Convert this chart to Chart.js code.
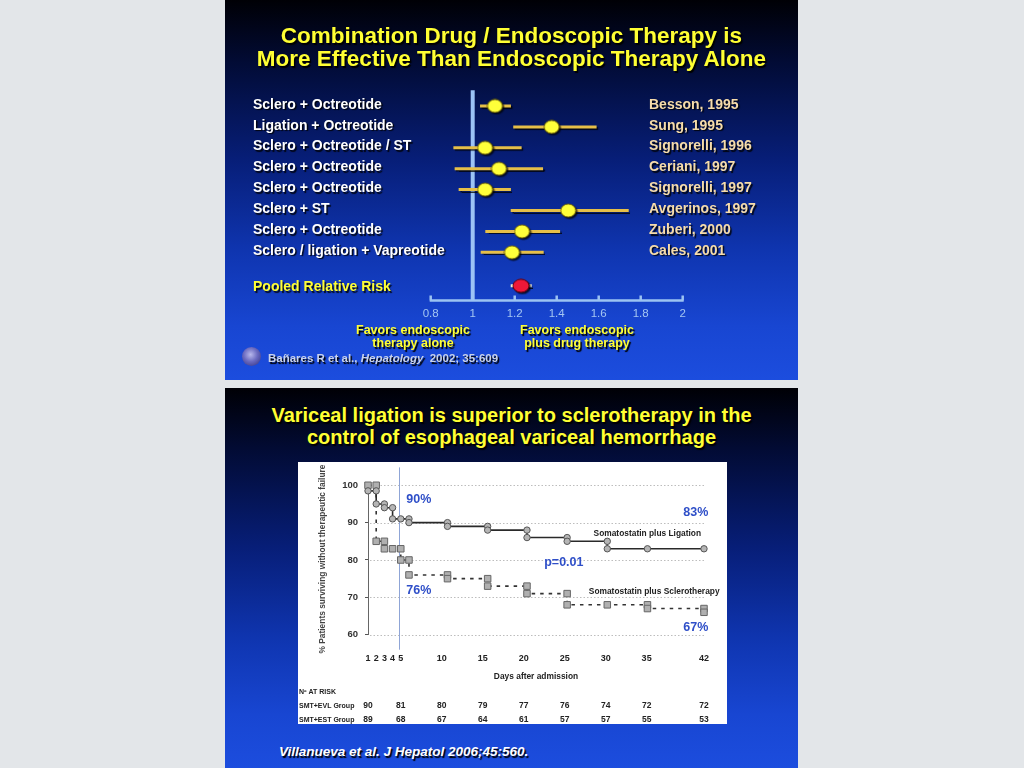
<!DOCTYPE html>
<html>
<head>
<meta charset="utf-8">
<title>Endoscopic therapy slides</title>
<script src="https://cdn.jsdelivr.net/npm/chart.js@4.4.1/dist/chart.umd.min.js"></script>
<style>
  html, body { margin: 0; padding: 0; }
  body {
    width: 1024px; height: 768px; overflow: hidden; position: relative;
    background: #e3e6e9;
    font-family: "Liberation Sans", Arial, Helvetica, sans-serif;
  }
  .slide {
    position: absolute; left: 225px; width: 573px; height: 380px; overflow: hidden;
    background: linear-gradient(to bottom, #000005 0%, #020b34 16%, #071e78 42%, #0f35b0 66%, #1846d2 86%, #1c4dde 100%);
  }
  #slideTop { top: 0; }
  #slideBottom { top: 388px; }
  .txt { position: absolute; font-weight: bold; white-space: nowrap; text-shadow: 1.5px 1.5px 1px #000; }
  .yellow { color: #ffff33; text-align: center; }
  #forestCanvas { position: absolute; left: 0; top: 0; }
  #kmCanvas { position: absolute; left: 73px; top: 74px; background: #fff; }
  #logo {
    position: absolute; left: 17px; top: 347px; width: 19px; height: 19px; border-radius: 50%;
    background: radial-gradient(circle at 45% 40%, #b8b8ec 0%, #6a6ac0 45%, #2a2a78 100%);
  }
</style>
</head>
<body>

<div class="slide" id="slideTop">
  <canvas id="forestCanvas" width="573" height="380"></canvas>
  <div class="txt yellow" style="left:0; top:24px; width:573px; font-size:22.5px; line-height:23px;">
    Combination Drug / Endoscopic Therapy is<br>More Effective Than Endoscopic Therapy Alone
  </div>
  <div class="txt yellow" style="left:88px; top:323.5px; width:200px; font-size:12.5px; line-height:13px;">
    Favors endoscopic<br>therapy alone
  </div>
  <div class="txt yellow" style="left:252px; top:323.5px; width:200px; font-size:12.5px; line-height:13px;">
    Favors endoscopic<br>plus drug therapy
  </div>
  <div id="logo"></div>
  <div class="txt" style="left:43px; top:351px; font-size:11.5px; line-height:14px; color:#c9d3ea;">
    Bañares R et al., <i>Hepatology</i>&nbsp; 2002; 35:609
  </div>
</div>

<div class="slide" id="slideBottom">
  <div class="txt yellow" style="left:0; top:17px; width:573px; font-size:20px; line-height:21.5px;">
    Variceal ligation is superior to sclerotherapy in the<br>control of esophageal variceal hemorrhage
  </div>
  <canvas id="kmCanvas" width="429" height="262"></canvas>
  <div class="txt" style="left:54px; top:356px; font-size:13.5px; line-height:16px; color:#fff; font-style:italic;">
    Villanueva et al. J Hepatol 2006;45:560.
  </div>
</div>

<script>
// Forest plot: relative risk per study
var studyLabels = ['Sclero + Octreotide', 'Ligation + Octreotide', 'Sclero + Octreotide / ST', 'Sclero + Octreotide',
    'Sclero + Octreotide', 'Sclero + ST', 'Sclero + Octreotide', 'Sclero / ligation + Vapreotide'];
var studyRefs = ['Besson, 1995', 'Sung, 1995', 'Signorelli, 1996', 'Ceriani, 1997',
    'Signorelli, 1997', 'Avgerinos, 1997', 'Zuberi, 2000', 'Cales, 2001'];
var rrEstimate = [1.106, 1.376, 1.059, 1.125, 1.059, 1.455, 1.235, 1.187];
var rrLower = [1.035, 1.193, 0.908, 0.914, 0.933, 1.181, 1.06, 1.038];
var rrUpper = [1.182, 1.59, 1.233, 1.335, 1.182, 1.743, 1.416, 1.338];
var pooledRR = [1.181, 1.23, 1.281]; // lower, estimate, upper
var rrTicks = [0.8, 1, 1.2, 1.4, 1.6, 1.8, 2];

// Survival curves (% without therapeutic failure by day)
var kmTickDays = [1, 2, 3, 4, 5, 10, 15, 20, 25, 30, 35, 42];
var kmPctTicks = [60, 70, 80, 90, 100];
var ligationDays = [1, 2, 2, 3, 3, 4, 4, 5, 6, 6, 10.7, 10.7, 15.6, 15.6, 20.4, 20.4, 25.3, 25.3, 30.2, 30.2, 35.1, 42];
var ligationPct = [98.5, 98.5, 95, 95, 94, 94, 91, 91, 91, 90, 90, 89, 89, 88, 88, 86, 86, 85, 85, 83, 83, 83];
var scleroDays = [1, 2, 2, 3, 3, 4, 5, 5, 6, 6, 10.7, 10.7, 15.6, 15.6, 20.4, 20.4, 25.3, 25.3, 30.2, 35.1, 35.1, 42, 42];
var scleroPct = [100, 100, 85, 85, 83, 83, 83, 80, 80, 76, 76, 75, 75, 73, 73, 71, 71, 68, 68, 68, 67, 67, 66];
var riskDays = [1, 5, 10, 15, 20, 25, 30, 35, 42];
var riskEVL = [90, 81, 80, 79, 77, 76, 74, 72, 72];
var riskEST = [89, 68, 67, 64, 61, 57, 57, 55, 53];

var FONT = '"Liberation Sans", Arial, Helvetica, sans-serif';
Chart.defaults.font.family = FONT;
var POOLED_ROW = 9.6;

// ellipse marker drawn once, used as pointStyle
function makeEllipse(w, h, fill, stroke) {
    var c = document.createElement('canvas');
    c.width = w + 2;
    c.height = h + 2;
    var g = c.getContext('2d');
    g.beginPath();
    g.ellipse(c.width / 2, c.height / 2, w / 2, h / 2, 0, 0, Math.PI * 2);
    g.fillStyle = fill;
    g.fill();
    g.lineWidth = 1;
    g.strokeStyle = stroke;
    g.stroke();
    return c;
}

function toPoints(xs, ys) {
    return xs.map(function (x, i) { return {x: x, y: ys[i]}; });
}

// ---------- forest plot ----------
var forestDecor = {
    id: 'forestDecor',
    beforeDatasetsDraw: function (chart) {
        var ctx = chart.ctx, xs = chart.scales.x, a = chart.chartArea;
        ctx.save();
        ctx.strokeStyle = '#9cc3f2';
        ctx.lineWidth = 2.5;
        var y0 = a.bottom;
        ctx.beginPath();
        ctx.moveTo(xs.getPixelForValue(rrTicks[0]) - 1, y0);
        ctx.lineTo(xs.getPixelForValue(rrTicks[rrTicks.length - 1]) + 1, y0);
        rrTicks.forEach(function (t) {
            var x = xs.getPixelForValue(t);
            ctx.moveTo(x, y0);
            ctx.lineTo(x, y0 - 5);
        });
        ctx.stroke();
        // no-effect line at RR = 1
        ctx.lineWidth = 4;
        ctx.strokeStyle = '#9cc3f5';
        ctx.beginPath();
        ctx.moveTo(xs.getPixelForValue(1), a.top);
        ctx.lineTo(xs.getPixelForValue(1), y0);
        ctx.stroke();
        ctx.restore();

        ctx.save();
        ctx.shadowColor = 'rgba(0,0,0,0.75)';
        ctx.shadowOffsetX = 1.5;
        ctx.shadowOffsetY = 1.5;
        ctx.shadowBlur = 1;
    },
    afterDatasetsDraw: function (chart) {
        var ctx = chart.ctx, ys = chart.scales.y;
        ctx.restore();
        ctx.save();
        ctx.shadowColor = 'rgba(0,0,0,0.85)';
        ctx.shadowOffsetX = 1.5;
        ctx.shadowOffsetY = 1.5;
        ctx.shadowBlur = 1;
        ctx.font = 'bold 14px ' + FONT;
        ctx.textBaseline = 'middle';
        ctx.textAlign = 'left';
        studyLabels.forEach(function (s, i) {
            var y = ys.getPixelForValue(i + 1) - 1.2;
            ctx.fillStyle = '#ffffff';
            ctx.fillText(s, 28, y);
            ctx.fillStyle = '#f6dcaa';
            ctx.fillText(studyRefs[i], 424, y);
        });
        ctx.fillStyle = '#ffff33';
        ctx.fillText('Pooled Relative Risk', 28, ys.getPixelForValue(POOLED_ROW) + 1.5);
        ctx.restore();
    }
};

var forestSets = [{
    data: rrEstimate.map(function (v, i) { return {x: v, y: i + 1}; }),
    pointStyle: makeEllipse(15, 13, '#ffff3a', 'rgba(110,95,0,0.9)'),
    pointRadius: 8,
    order: 0
}, {
    data: [{x: pooledRR[1], y: POOLED_ROW}],
    pointStyle: makeEllipse(16, 13, '#ee1838', '#6a0010'),
    pointRadius: 8,
    order: 0
}];
rrLower.forEach(function (lo, i) {
    forestSets.push({
        data: [{x: lo, y: i + 1}, {x: rrUpper[i], y: i + 1}],
        showLine: true, borderColor: '#e6bf48', borderWidth: 3, pointRadius: 0, order: 1
    });
});
forestSets.push({
    data: [{x: pooledRR[0], y: POOLED_ROW}, {x: pooledRR[2], y: POOLED_ROW}],
    showLine: true, borderColor: '#f3ead2', borderWidth: 3, pointRadius: 0, order: 1
});

new Chart(document.getElementById('forestCanvas'), {
    type: 'scatter',
    data: {datasets: forestSets},
    options: {
        responsive: false,
        animation: false,
        events: [],
        layout: {padding: {left: 205.7, right: 115.3, top: 90.3, bottom: 59.6}},
        plugins: {legend: {display: false}, tooltip: {enabled: false}},
        scales: {
            x: {
                type: 'linear', min: 0.8, max: 2,
                afterBuildTicks: function (s) { s.ticks = rrTicks.map(function (v) { return {value: v}; }); },
                afterFit: function (s) { s.height = 20; },
                grid: {display: false, drawTicks: false},
                border: {display: false},
                ticks: {
                    padding: 7, color: '#a4c6f2', font: {size: 11.5},
                    maxRotation: 0, autoSkip: false,
                    callback: function (v) { return String(Math.round(v * 10) / 10); }
                }
            },
            y: {type: 'linear', reverse: true, min: 0.25, max: 10.3, display: false}
        }
    },
    plugins: [forestDecor]
});

// ---------- Kaplan-Meier plot ----------
var kmDecor = {
    id: 'kmDecor',
    beforeDatasetsDraw: function (chart) {
        var ctx = chart.ctx, xs = chart.scales.x, ys = chart.scales.y, a = chart.chartArea;
        ctx.save();
        ctx.strokeStyle = '#bdbdbd';
        ctx.lineWidth = 1;
        ctx.setLineDash([1.5, 2]);
        kmPctTicks.forEach(function (v) {
            var y = Math.round(ys.getPixelForValue(v)) + 0.5;
            ctx.beginPath();
            ctx.moveTo(a.left + 2, y);
            ctx.lineTo(a.right, y);
            ctx.stroke();
        });
        ctx.setLineDash([]);
        ctx.strokeStyle = '#8fa5d6';
        var bx = Math.round(xs.getPixelForValue(4.8)) + 0.5;
        ctx.beginPath();
        ctx.moveTo(bx, a.top - 16);
        ctx.lineTo(bx, a.bottom + 15);
        ctx.stroke();
        ctx.restore();
    },
    afterDraw: function (chart) {
        var ctx = chart.ctx, xs = chart.scales.x, ys = chart.scales.y, a = chart.chartArea;
        ctx.save();
        ctx.textBaseline = 'middle';

        var notes = [
            {t: '90%', x: 5.67, y: 96.3, al: 'left', f: 'bold 12.5px ', c: '#2f4fc8'},
            {t: '76%', x: 5.67, y: 71.7, al: 'left', f: 'bold 12.5px ', c: '#2f4fc8'},
            {t: '83%', x: 42.53, y: 92.7, al: 'right', f: 'bold 12.5px ', c: '#2f4fc8'},
            {t: '67%', x: 42.53, y: 61.8, al: 'right', f: 'bold 12.5px ', c: '#2f4fc8'},
            {t: 'p=0.01', x: 24.9, y: 79.25, al: 'center', f: 'bold 12.5px ', c: '#2f4fc8'},
            {t: 'Somatostatin plus Ligation', x: 41.64, y: 87.15, al: 'right', f: 'bold 8.4px ', c: '#222'},
            {t: 'Somatostatin plus Sclerotherapy', x: 43.9, y: 71.6, al: 'right', f: 'bold 8.4px ', c: '#222'}
        ];
        notes.forEach(function (n) {
            ctx.font = n.f + FONT;
            ctx.fillStyle = n.c;
            ctx.textAlign = n.al;
            ctx.fillText(n.t, xs.getPixelForValue(n.x), ys.getPixelForValue(n.y));
        });

        ctx.fillStyle = '#222';
        ctx.font = 'bold 8.4px ' + FONT;
        ctx.textAlign = 'center';
        ctx.fillText('Days after admission', (a.left + a.right) / 2, a.bottom + 42);

        // number at risk table
        ctx.textAlign = 'left';
        ctx.font = 'bold 7px ' + FONT;
        ctx.fillText('N\u00ba AT RISK', 1, a.bottom + 57);
        ctx.fillText('SMT+EVL Group', 1, a.bottom + 71);
        ctx.fillText('SMT+EST Group', 1, a.bottom + 85.3);
        ctx.font = 'bold 8.5px ' + FONT;
        ctx.textAlign = 'center';
        riskDays.forEach(function (d, i) {
            var x = xs.getPixelForValue(d);
            ctx.fillText(String(riskEVL[i]), x, a.bottom + 71);
            ctx.fillText(String(riskEST[i]), x, a.bottom + 85.3);
        });
        ctx.restore();
    }
};

new Chart(document.getElementById('kmCanvas'), {
    type: 'scatter',
    data: {
        datasets: [{
            label: 'Somatostatin plus Ligation',
            data: toPoints(ligationDays, ligationPct),
            showLine: true, borderColor: '#2a2a2a', borderWidth: 1.6,
            pointStyle: 'circle', pointRadius: 3.2, pointBackgroundColor: '#b5b5b5',
            pointBorderColor: '#555', pointBorderWidth: 1, clip: false, order: 0
        }, {
            label: 'Somatostatin plus Sclerotherapy',
            data: toPoints(scleroDays, scleroPct),
            showLine: true, borderColor: '#333', borderWidth: 1.6, borderDash: [3.5, 5],
            pointStyle: 'rect', pointRadius: 4.6, pointBackgroundColor: '#b0b0b0',
            pointBorderColor: '#666', pointBorderWidth: 1, clip: false, order: 1
        }]
    },
    options: {
        responsive: false,
        animation: false,
        events: [],
        layout: {padding: {left: 0, right: 16.7, top: 21.4, bottom: 29.3}},
        plugins: {legend: {display: false}, tooltip: {enabled: false}},
        scales: {
            x: {
                type: 'linear', min: 1, max: 42,
                afterBuildTicks: function (s) { s.ticks = kmTickDays.map(function (v) { return {value: v}; }); },
                afterFit: function (s) { s.height = 60; },
                grid: {display: false, drawTicks: false},
                border: {display: false},
                ticks: {padding: 18, color: '#222', font: {size: 9, weight: 'bold'}, maxRotation: 0, minRotation: 0, autoSkip: false,
                    callback: function (v) { return String(v); }}
            },
            y: {
                type: 'linear', min: 60, max: 100.5,
                afterBuildTicks: function (s) { s.ticks = kmPctTicks.map(function (v) { return {value: v}; }); },
                afterFit: function (s) { s.width = 70; },
                grid: {drawOnChartArea: false, drawTicks: true, tickLength: 3, color: '#555'},
                border: {display: true, color: '#666', width: 1},
                ticks: {padding: 7, color: '#333', font: {size: 9.5, weight: 'bold'},
                    callback: function (v) { return String(v); }},
                title: {display: true, text: '% Patients surviving without therapeutic failure',
                    color: '#444', font: {size: 8.4, weight: 'bold'}, padding: {top: 20, bottom: 0}}
            }
        }
    },
    plugins: [kmDecor]
});
</script>
</body>
</html>
